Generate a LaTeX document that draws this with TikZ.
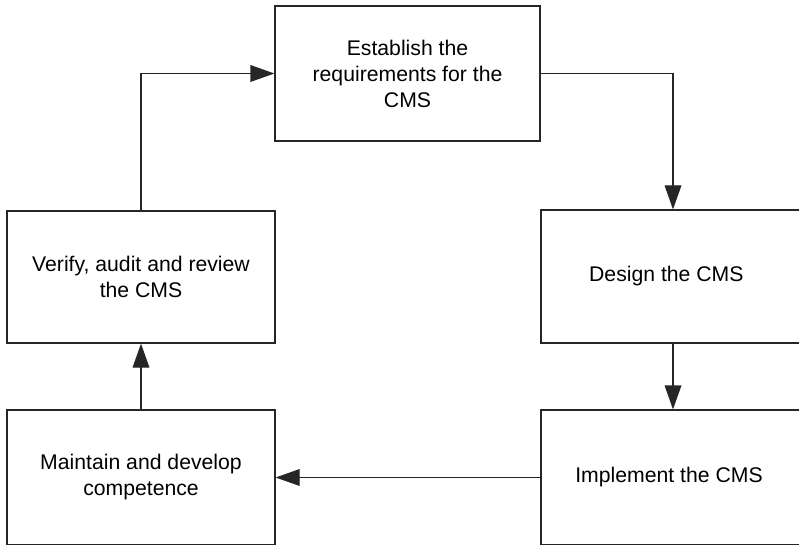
\documentclass[tikz,border=0pt]{standalone}
\usepackage{fontspec}
\setmainfont{Liberation Sans}
\usepackage{tikz}
\usetikzlibrary{arrows.meta,calc}
\tikzstyle{stagebox}=[rectangle,draw=black!85,line width=0.9pt,align=center,
  inner sep=2pt,font=\fontsize{15.9}{19.5}\selectfont]
\tikzstyle{flow}=[draw=black!85,line width=0.9pt,-{Triangle[length=18pt,width=12.5pt]}]

\begin{document}
\begin{tikzpicture}[x=0.75pt,y=-0.75pt]
        \clip (0,0) rectangle (799,545);
        \node[style=stagebox,minimum width=198.75pt,minimum height=101.25pt] (req) at (407.5,73.5)
            {Establish the\\requirements for the\\CMS};
        \node[style=stagebox,minimum width=198pt,minimum height=99.75pt] (design) at (673,276.5)
            {\hspace*{-10pt}Design the CMS};
        \node[style=stagebox,minimum width=198pt,minimum height=101.25pt] (impl) at (673,477.5)
            {\hspace*{-6pt}Implement the CMS};
        \node[style=stagebox,minimum width=201pt,minimum height=101.25pt] (maint) at (141,477.5)
            {Maintain and develop\\competence};
        \node[style=stagebox,minimum width=201pt,minimum height=99pt] (verify) at (141,277)
            {Verify, audit and review\\the CMS};
        \draw[style=flow] (verify.north) |- (req.west);
        \draw[style=flow] (req.east) -| (design.north);
        \draw[style=flow] (design.south) to (impl.north);
        \draw[style=flow] (impl.west) to (maint.east);
        \draw[style=flow] (maint.north) to (verify.south);
    \end{tikzpicture}
\end{document}
